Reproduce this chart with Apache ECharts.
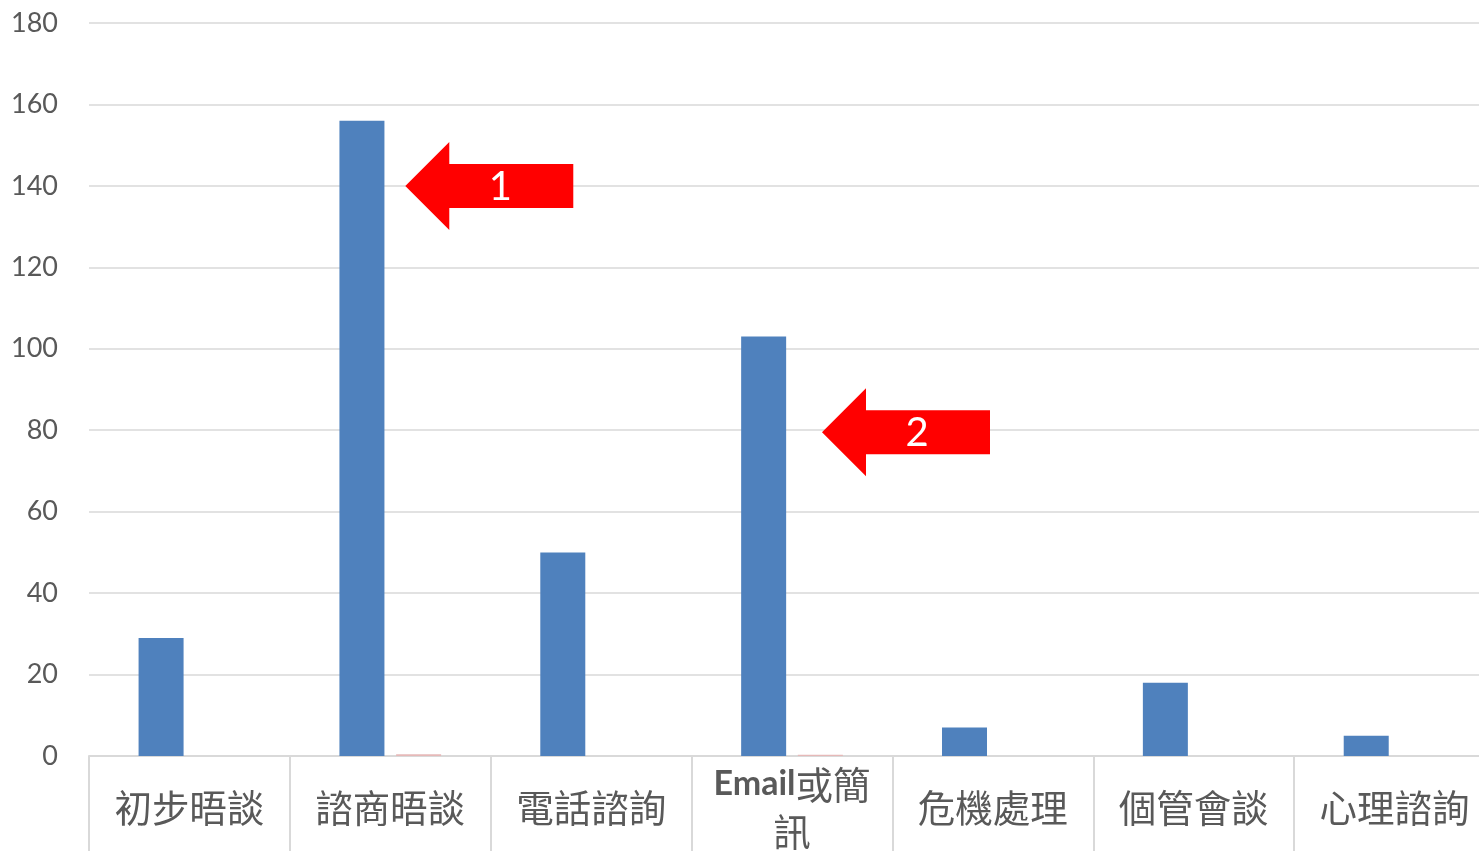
<!DOCTYPE html>
<html>
<head>
<meta charset="utf-8">
<script src="https://cdn.jsdelivr.net/npm/echarts@6/dist/echarts.min.js"></script>
<style>
  html,body{margin:0;padding:0;background:#fff;overflow:hidden;}
  #chart{width:1479px;height:851px;}
</style>
</head>
<body>
<div id="chart"></div>
<script>
// 類別與數值
var categories = ['初步晤談', '諮商晤談', '電話諮詢', 'Email或簡訊', '危機處理', '個管會談', '心理諮詢'];
var mainValues = [29, 156, 50, 103, 7, 18, 5];
var minorValues = [0, 0.4, 0, 0.3, 0, 0, 0];
var yTicks = { min: 0, max: 180, interval: 20 };
// 紅色箭頭標註：指向的類別、數值與編號
var arrowCats = [1, 3];
var arrowValues = [140, 79.5];
var arrowTexts = ['1', '2'];
var arrowShift = [15, 30];

var myChart = echarts.init(document.getElementById('chart'));
var cjk = '"Noto Sans CJK TC", "Noto Sans CJK SC", sans-serif';

var option = {
  animation: false,
  grid: { left: 89, top: 23, width: 1406, height: 733, containLabel: false, outerBoundsMode: 'none' },
  xAxis: {
    type: 'category',
    data: categories,
    axisLine: { show: true, lineStyle: { color: '#d9d9d9', width: 2 } },
    axisTick: { show: true, interval: 0, length: 100, lineStyle: { color: '#d9d9d9', width: 2 } },
    axisLabel: {
      interval: 0,
      margin: 52,
      verticalAlign: 'middle',
      color: '#595959',
      fontSize: 37.5,
      lineHeight: 47,
      fontFamily: cjk,
      formatter: function (v) {
        if (v.indexOf('Email') === 0) {
          return '{b|Email}{n|' + v.slice(5, 7) + '}\n{n|' + v.slice(7) + '}';
        }
        return v;
      },
      rich: {
        b: { fontFamily: 'Lato, "Open Sans", sans-serif', fontWeight: 'bold', fontSize: 34, color: '#595959', lineHeight: 47 },
        n: { fontFamily: cjk, fontSize: 37.5, color: '#595959', lineHeight: 47 }
      }
    }
  },
  yAxis: {
    type: 'value',
    min: yTicks.min,
    max: yTicks.max,
    interval: yTicks.interval,
    axisLine: { show: false },
    axisTick: { show: false },
    splitLine: { lineStyle: { color: '#d9d9d9', width: 1.5 } },
    axisLabel: { color: '#595959', fontSize: 27, margin: 31, fontFamily: 'Lato, "Open Sans", sans-serif' }
  },
  series: [
    {
      type: 'bar',
      data: mainValues,
      barWidth: 45,
      barGap: '26%',
      itemStyle: { color: '#4f81bd' }
    },
    {
      type: 'bar',
      data: minorValues,
      barWidth: 45,
      itemStyle: { color: '#e6b9b8' }
    }
  ]
};
myChart.setOption(option);

// 依座標軸換算箭頭位置
var graphics = [];
for (var i = 0; i < arrowCats.length; i++) {
  var p = myChart.convertToPixel({ gridIndex: 0 }, [arrowCats[i], arrowValues[i]]);
  var x = p[0] + arrowShift[i], y = p[1];
  graphics.push({
    type: 'polygon',
    shape: {
      points: [[x, y], [x + 44, y - 44], [x + 44, y - 22], [x + 168, y - 22],
               [x + 168, y + 22], [x + 44, y + 22], [x + 44, y + 44]]
    },
    style: { fill: '#ff0000' },
    z: 100
  });
  graphics.push({
    type: 'text',
    x: x + 95,
    y: y + 1,
    style: {
      text: arrowTexts[i],
      fill: '#ffffff',
      fontSize: 40,
      fontFamily: 'Lato, "Open Sans", sans-serif',
      align: 'center',
      verticalAlign: 'middle'
    },
    z: 101
  });
}
myChart.setOption({ graphic: graphics });
</script>
</body>
</html>
